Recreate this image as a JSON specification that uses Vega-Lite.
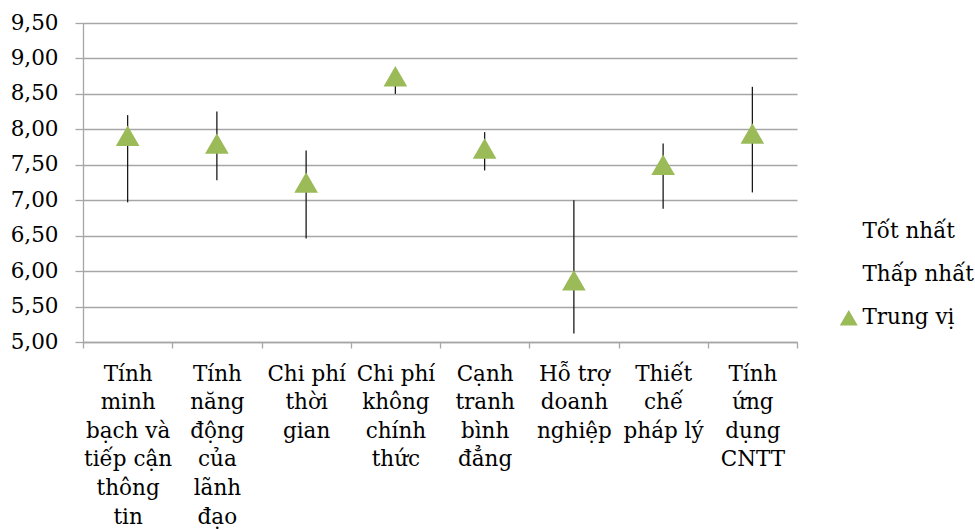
{
  "$schema": "https://vega.github.io/schema/vega-lite/v6.json",
  "autosize": {"type": "none"},
  "padding": {"left": 83, "top": 23, "right": 178, "bottom": 188},
  "width": 714,
  "height": 319,
  "background": "white",
  "config": {
    "view": {"stroke": null},
    "font": "DejaVu Serif",
    "axisY": {"labelOverlap": false}
  },
  "data": {
    "values": [
      {"cat": "Tính|minh|bạch và|tiếp cận|thông|tin", "high": 8.2, "low": 6.97, "median": 7.91},
      {"cat": "Tính|năng|động|của|lãnh|đạo", "high": 8.25, "low": 7.28, "median": 7.8},
      {"cat": "Chi phí|thời|gian", "high": 7.7, "low": 6.46, "median": 7.25},
      {"cat": "Chi phí|không|chính|thức", "high": 8.8, "low": 8.5, "median": 8.75},
      {"cat": "Cạnh|tranh|bình|đẳng", "high": 7.96, "low": 7.42, "median": 7.73},
      {"cat": "Hỗ trợ|doanh|nghiệp", "high": 7.0, "low": 5.12, "median": 5.87},
      {"cat": "Thiết|chế|pháp lý", "high": 7.8, "low": 6.88, "median": 7.5},
      {"cat": "Tính|ứng|dụng|CNTT", "high": 8.6, "low": 7.11, "median": 7.94}
    ]
  },
  "encoding": {
    "x": {
      "field": "cat",
      "type": "nominal",
      "sort": null,
      "scale": {"type": "band", "paddingInner": 0, "paddingOuter": 0},
      "axis": {
        "title": null,
        "labelAngle": 0,
        "labelExpr": "split(datum.label, '|')",
        "labelFont": "DejaVu Serif",
        "labelFontSize": 21.5,
        "labelLineHeight": 28.6,
        "labelColor": "#000000",
        "labelBaseline": "top",
        "labelPadding": 15,
        "labelOverlap": false,
        "labelBound": false,
        "labelLimit": 0,
        "tickBand": "extent",
        "ticks": true,
        "tickSize": 6,
        "tickColor": "#A6A6A6",
        "tickWidth": 1.3,
        "domainColor": "#A6A6A6",
        "domainWidth": 1.3,
        "grid": false
      }
    },
    "y": {
      "field": "low",
      "type": "quantitative",
      "scale": {"domain": [5, 9.5], "nice": false, "zero": false},
      "axis": {
        "title": null,
        "values": [5, 5.5, 6, 6.5, 7, 7.5, 8, 8.5, 9, 9.5],
        "labelExpr": "replace(format(datum.value, '.2f'), '.', ',')",
        "labelFont": "DejaVu Serif",
        "labelFontSize": 21.5,
        "labelColor": "#000000",
        "labelPadding": 17,
        "labelOverlap": false,
        "labelBound": false,
        "tickSize": 8,
        "tickColor": "#A6A6A6",
        "tickWidth": 1.3,
        "domainColor": "#A6A6A6",
        "domainWidth": 1.3,
        "grid": true,
        "gridColor": "#A6A6A6",
        "gridWidth": 1.3
      }
    }
  },
  "layer": [
    {
      "mark": {"type": "rule", "color": "#1a1a1a", "strokeWidth": 1.3},
      "encoding": {
        "y2": {"field": "high"}
      }
    },
    {
      "mark": {"type": "point", "shape": "triangle-up", "filled": true, "size": 560, "opacity": 1},
      "encoding": {
        "y": {"field": "median", "type": "quantitative"},
        "color": {
          "datum": "Trung vị",
          "type": "nominal",
          "scale": {
            "domain": ["Tốt nhất", "Thấp nhất", "Trung vị"],
            "range": ["transparent", "transparent", "#9BBB59"]
          },
          "legend": {
            "title": null,
            "orient": "none",
            "legendX": 755,
            "legendY": 198,
            "symbolType": "triangle-up",
            "symbolSize": 324,
            "symbolStrokeWidth": 0,
            "symbolOpacity": 1,
            "labelFont": "DejaVu Serif",
            "labelFontSize": 21.5,
            "labelColor": "#000000",
            "labelOffset": 3,
            "rowPadding": 20,
            "labelLimit": 0
          }
        }
      }
    }
  ]
}
